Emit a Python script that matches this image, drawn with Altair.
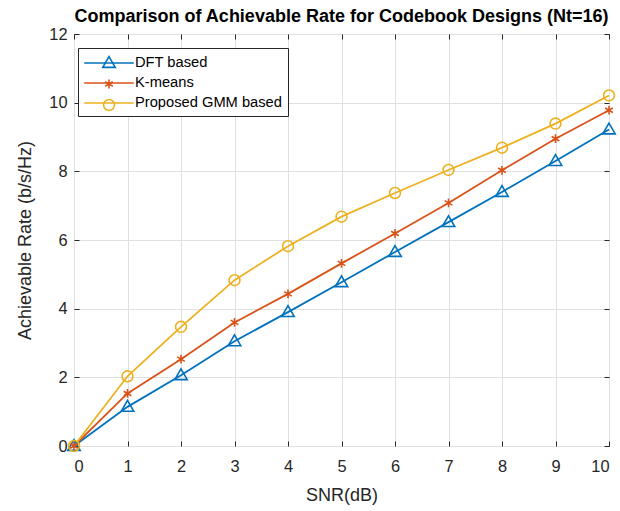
import altair as alt
import pandas as pd

# ---- data ----
snr = [0, 1, 2, 3, 4, 5, 6, 7, 8, 9, 10]
dft = [0.0, 1.14, 2.06, 3.05, 3.90, 4.77, 5.65, 6.52, 7.40, 8.30, 9.22]
kmeans = [0.0, 1.53, 2.53, 3.60, 4.43, 5.32, 6.19, 7.08, 8.03, 8.95, 9.78]
gmm = [0.0, 2.03, 3.47, 4.83, 5.82, 6.68, 7.37, 8.04, 8.69, 9.39, 10.21]
series_names = ["DFT based", "K-means", "Proposed GMM based"]
y_ticks = [0, 2, 4, 6, 8, 10, 12]

colors = ["#0072BD", "#D95319", "#EDB120"]
# invisible move-tos keep the marker legend's bounds equal to the line legend's
pad_moves = "M-3.1,0M3.1,0"
marker_paths = [
    pad_moves + "M0,-0.8L0.78,0.55L-0.78,0.55Z",
    pad_moves + "M0,-0.55V0.55M-0.48,-0.28L0.48,0.28M-0.48,0.28L0.48,-0.28",
    pad_moves + "M0.68,0A0.68,0.68 0 1,1 -0.68,0A0.68,0.68 0 1,1 0.68,0Z",
]
line_symbol = "M-3.1,0H3.1"

rows = []
for name, vals in zip(series_names, [dft, kmeans, gmm]):
    for s, v in zip(snr, vals):
        rows.append({"SNR": s, "Rate": v, "Series": name})
df = pd.DataFrame(rows)

FONT = "Liberation Sans"
INK = "#262626"

common_legend = dict(
    title=None,
    orient="none",
    legendX=4,
    legendY=14,
    symbolSize=256,
    symbolStrokeWidth=1.6,
    symbolOffset=16,
    labelOffset=17,
    labelFont=FONT,
    labelFontSize=14.7,
    padding=6,
    rowPadding=4,
)

line_legend = alt.Legend(
    symbolType=line_symbol,
    labelColor="#000000",
    fillColor="white",
    strokeColor=INK,
    zindex=1,
    **common_legend,
)
marker_legend = alt.Legend(
    labelColor="#000000",
    labelOpacity=0,
    symbolFillColor="transparent",
    zindex=2,
    **common_legend,
)

x_scale = alt.Scale(domain=[0, 10], nice=False)
y_scale = alt.Scale(domain=[0, 12], nice=False)

lines = alt.Chart(df).mark_line(strokeWidth=1.8).encode(
    x=alt.X(
        "SNR:Q",
        scale=x_scale,
        axis=alt.Axis(
            title="SNR(dB)", values=snr, format="d", grid=True, domain=False,
            ticks=True, tickSize=5, offset=-5, labelPadding=12, titlePadding=12,
        ),
    ),
    y=alt.Y(
        "Rate:Q",
        scale=y_scale,
        axis=alt.Axis(
            title="Achievable Rate (b/s/Hz)", values=y_ticks, format="d", grid=True,
            domain=False, ticks=True, tickSize=5, offset=-5, labelPadding=7,
            titlePadding=14,
        ),
    ),
    color=alt.Color("Series:N", scale=alt.Scale(domain=series_names, range=colors),
                    legend=line_legend),
)

points = alt.Chart(df).mark_point(filled=False, strokeWidth=1.6, size=256, opacity=1).encode(
    x=alt.X(
        "SNR:Q",
        scale=x_scale,
        axis=alt.Axis(orient="top", title=None, values=snr, labels=False, grid=False,
                      domain=False, ticks=True, tickSize=5, offset=-5,
                      minExtent=0, maxExtent=0),
    ),
    y=alt.Y(
        "Rate:Q",
        scale=y_scale,
        axis=alt.Axis(orient="right", title=None, values=y_ticks, labels=False, grid=False,
                      domain=False, ticks=True, tickSize=5, offset=-5,
                      minExtent=0, maxExtent=0),
    ),
    color=alt.Color("Series:N", scale=alt.Scale(domain=series_names, range=colors),
                    legend=marker_legend),
    shape=alt.Shape("Series:N", scale=alt.Scale(domain=series_names, range=marker_paths),
                    legend=marker_legend),
)

chart = (
    alt.layer(lines, points)
    .resolve_axis(x="independent", y="independent")
    .resolve_scale(color="independent", shape="independent")
    .properties(
        width=535,
        height=412,
        background="white",
        autosize=alt.AutoSizeParams(type="none"),
        padding={"left": 74, "top": 34, "right": 11, "bottom": 65},
        title=alt.Title(
            "Comparison of Achievable Rate for Codebook Designs (Nt=16)",
            font=FONT, fontSize=18, fontWeight="bold", color="#000000",
            anchor="middle", offset=0, frame="group",
        ),
    )
    .configure_view(stroke=INK, strokeWidth=1)
    .configure_axis(
        labelFont=FONT, labelFontSize=16.4, labelColor=INK,
        titleFont=FONT, titleFontSize=18, titleFontWeight="normal", titleColor=INK,
        tickColor=INK, tickWidth=1, gridColor="#e0e0e0", gridWidth=1,
    )
)

chart.save("out.html", embed_options={"renderer": "svg", "actions": False})
